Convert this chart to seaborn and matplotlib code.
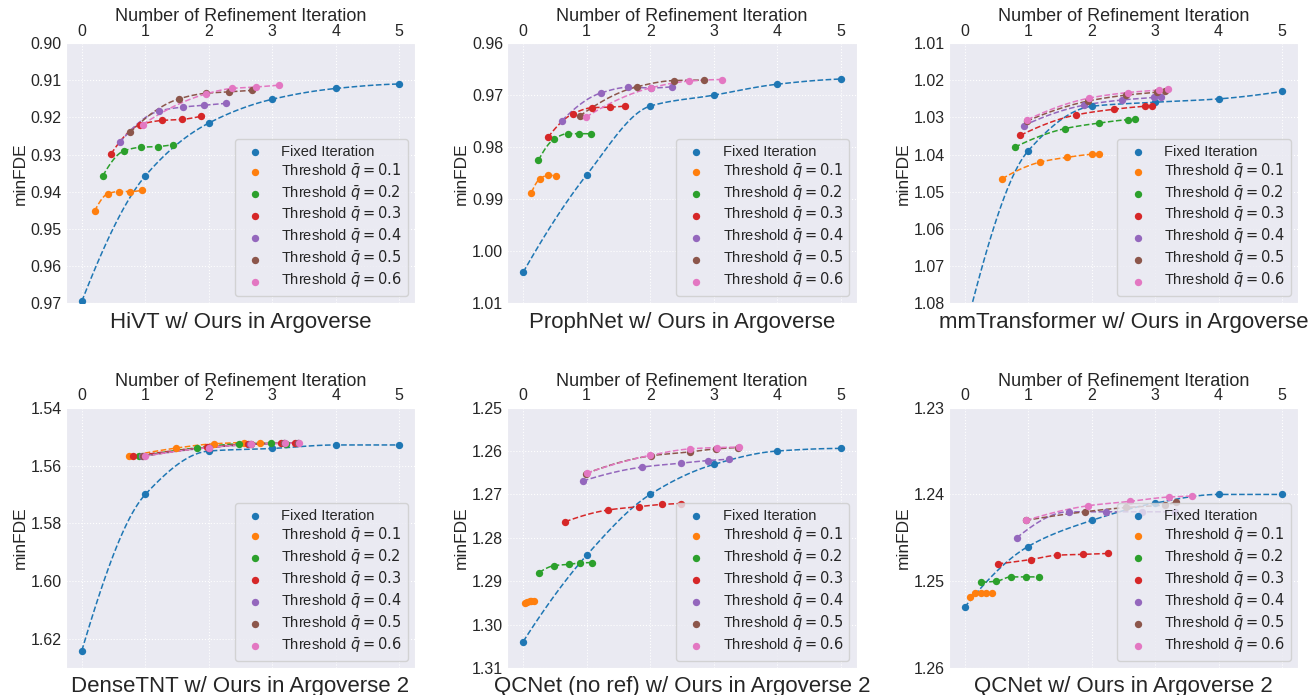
import numpy as np
import matplotlib
matplotlib.use("Agg")
import matplotlib.pyplot as plt
import seaborn as sns

# -- Data ----------------------------------------------------------------------
SERIES = ["Fixed Iteration"] + [rf"Threshold $\bar{{q}} = {t}$" for t in ("0.1", "0.2", "0.3", "0.4", "0.5", "0.6")]
COLORS = ["#1f77b4", "#ff7f0e", "#2ca02c", "#d62728", "#9467bd", "#8c564b", "#e377c2"]
FIXED_X = [0, 1, 2, 3, 4, 5]

TITLES = ["HiVT w/ Ours in Argoverse", "ProphNet w/ Ours in Argoverse",
          "mmTransformer w/ Ours in Argoverse", "DenseTNT w/ Ours in Argoverse 2",
          "QCNet (no ref) w/ Ours in Argoverse 2", "QCNet w/ Ours in Argoverse 2"]
YLIMS = [(0.97, 0.90), (1.01, 0.96), (1.08, 1.01), (1.63, 1.54), (1.31, 1.25), (1.26, 1.23)]
YSTEPS = [0.01, 0.01, 0.01, 0.02, 0.01, 0.01]

HIVT_X = [FIXED_X,
          [0.20, 0.41, 0.59, 0.76, 0.95],
          [0.33, 0.66, 0.93, 1.20, 1.44],
          [0.46, 0.91, 1.26, 1.58, 1.87],
          [0.60, 1.21, 1.59, 1.93, 2.27],
          [0.76, 1.53, 1.95, 2.32, 2.68],
          [0.96, 1.95, 2.36, 2.74, 3.11]]
HIVT_Y = [[0.9694, 0.9357, 0.9215, 0.9151, 0.9122, 0.9110],
          [0.9452, 0.9405, 0.9399, 0.9399, 0.9396],
          [0.9357, 0.9290, 0.9280, 0.9278, 0.9273],
          [0.9298, 0.9220, 0.9208, 0.9205, 0.9197],
          [0.9267, 0.9183, 0.9172, 0.9167, 0.9162],
          [0.9240, 0.9150, 0.9135, 0.9131, 0.9127],
          [0.9219, 0.9137, 0.9122, 0.9118, 0.9113]]

PROPH_X = [FIXED_X,
           [0.13, 0.26, 0.39, 0.52],
           [0.24, 0.49, 0.70, 0.88, 1.07],
           [0.39, 0.78, 1.09, 1.36, 1.61],
           [0.61, 1.22, 1.65, 2.02, 2.34],
           [0.89, 1.79, 2.37, 2.84],
           [0.99, 2.01, 2.61, 3.13]]
PROPH_Y = [[1.0040, 0.9853, 0.9721, 0.9700, 0.9679, 0.9669],
           [0.9887, 0.9861, 0.9854, 0.9855],
           [0.9825, 0.9784, 0.9774, 0.9774, 0.9774],
           [0.9781, 0.9736, 0.9724, 0.9723, 0.9721],
           [0.9749, 0.9696, 0.9685, 0.9686, 0.9684],
           [0.9740, 0.9684, 0.9672, 0.9671],
           [0.9742, 0.9686, 0.9673, 0.9670]]

MMT_X = [FIXED_X,
         [0.59, 1.19, 1.62, 2.00, 2.11],
         [0.79, 1.58, 2.12, 2.57, 2.69],
         [0.88, 1.76, 2.35, 2.84, 2.96],
         [0.93, 1.88, 2.48, 2.98, 3.10],
         [0.98, 1.94, 2.54, 3.03, 3.16],
         [0.99, 1.96, 2.57, 3.07, 3.20]]
MMT_Y = [[1.0880, 1.0390, 1.0270, 1.0259, 1.0250, 1.0230],
         [1.0465, 1.0420, 1.0407, 1.0399, 1.0398],
         [1.0380, 1.0330, 1.0315, 1.0306, 1.0305],
         [1.0348, 1.0293, 1.0278, 1.0270, 1.0269],
         [1.0322, 1.0267, 1.0253, 1.0246, 1.0244],
         [1.0310, 1.0256, 1.0240, 1.0232, 1.0230],
         [1.0306, 1.0248, 1.0233, 1.0226, 1.0224]]

DTNT_X = [FIXED_X,
          [0.74, 1.48, 2.08, 2.56, 2.80],
          [0.90, 1.81, 2.48, 2.98, 3.21],
          [0.81, 1.97, 2.62, 3.14, 3.36],
          [0.95, 2.00, 2.65, 3.18, 3.40],
          [0.97, 2.01, 2.66, 3.19, 3.41],
          [0.99, 2.00, 2.67, 3.20, 3.42]]
DTNT_Y = [[1.6240, 1.5700, 1.5550, 1.5541, 1.5529, 1.5529],
          [1.5568, 1.5540, 1.5525, 1.5521, 1.5523],
          [1.5568, 1.5539, 1.5525, 1.5523, 1.5524],
          [1.5568, 1.5537, 1.5526, 1.5523, 1.5523],
          [1.5568, 1.5538, 1.5527, 1.5523, 1.5523],
          [1.5568, 1.5538, 1.5527, 1.5523, 1.5523],
          [1.5568, 1.5538, 1.5527, 1.5523, 1.5523]]

QCNR_X = [FIXED_X,
          [0.03, 0.06, 0.10, 0.13, 0.17],
          [0.25, 0.49, 0.72, 0.90, 1.09],
          [0.66, 1.33, 1.83, 2.19, 2.49],
          [0.94, 1.87, 2.48, 2.91, 3.24],
          [0.99, 2.01, 2.62, 3.04, 3.39],
          [1.00, 2.00, 2.63, 3.05, 3.40]]
QCNR_Y = [[1.3039, 1.2840, 1.2700, 1.2631, 1.2600, 1.2594],
          [1.2949, 1.2947, 1.2946, 1.2945, 1.2945],
          [1.2880, 1.2864, 1.2861, 1.2858, 1.2857],
          [1.2763, 1.2736, 1.2728, 1.2723, 1.2721],
          [1.2669, 1.2637, 1.2628, 1.2622, 1.2619],
          [1.2652, 1.2611, 1.2602, 1.2595, 1.2592],
          [1.2651, 1.2610, 1.2595, 1.2592, 1.2591]]

QCN_X = [FIXED_X,
         [0.08, 0.17, 0.26, 0.34, 0.43],
         [0.26, 0.50, 0.73, 0.96, 1.18],
         [0.52, 1.04, 1.46, 1.87, 2.26],
         [0.82, 1.64, 2.23, 2.80, 3.32],
         [0.96, 1.89, 2.55, 3.16, 3.33],
         [0.97, 1.95, 2.60, 3.22, 3.59]]
QCN_Y = [[1.2530, 1.2460, 1.2430, 1.2410, 1.2400, 1.2400],
         [1.2518, 1.2514, 1.2514, 1.2514, 1.2514],
         [1.2501, 1.2500, 1.2495, 1.2495, 1.2495],
         [1.2480, 1.2475, 1.2470, 1.2469, 1.2468],
         [1.2450, 1.2420, 1.2420, 1.2420, 1.2420],
         [1.2430, 1.2420, 1.2415, 1.2412, 1.2409],
         [1.2430, 1.2413, 1.2408, 1.2403, 1.2402]]

PANELS_X = [HIVT_X, PROPH_X, MMT_X, DTNT_X, QCNR_X, QCN_X]
PANELS_Y = [HIVT_Y, PROPH_Y, MMT_Y, DTNT_Y, QCNR_Y, QCN_Y]


# -- Smooth dashed curve through the points (monotone cubic) -------------------
def pchip_curve(x, y, n=120):
    x = np.asarray(x, float); y = np.asarray(y, float)
    if len(x) < 3:
        return x, y
    h = np.diff(x); d = np.diff(y) / h
    m = np.zeros_like(x)
    for k in range(1, len(x) - 1):
        if d[k - 1] * d[k] > 0:
            w1 = 2 * h[k] + h[k - 1]; w2 = h[k] + 2 * h[k - 1]
            m[k] = (w1 + w2) / (w1 / d[k - 1] + w2 / d[k])

    def end_slope(h0, h1, d0, d1):
        s = ((2 * h0 + h1) * d0 - h0 * d1) / (h0 + h1)
        if np.sign(s) != np.sign(d0):
            s = 0.0
        elif np.sign(d0) != np.sign(d1) and abs(s) > abs(3 * d0):
            s = 3 * d0
        return s

    m[0] = end_slope(h[0], h[1], d[0], d[1])
    m[-1] = end_slope(h[-1], h[-2], d[-1], d[-2])
    xs = np.linspace(x[0], x[-1], n)
    idx = np.clip(np.searchsorted(x, xs) - 1, 0, len(x) - 2)
    t = (xs - x[idx]) / h[idx]
    h00 = 2 * t**3 - 3 * t**2 + 1; h10 = t**3 - 2 * t**2 + t
    h01 = -2 * t**3 + 3 * t**2;    h11 = t**3 - t**2
    ys = h00 * y[idx] + h10 * h[idx] * m[idx] + h01 * y[idx + 1] + h11 * h[idx] * m[idx + 1]
    return xs, ys


# -- Style ---------------------------------------------------------------------
sns.set_style("darkgrid", {"grid.linestyle": ":"})
plt.rcParams["font.family"] = ["Liberation Sans", "DejaVu Sans"]

fig, axes = plt.subplots(2, 3, figsize=(13.11, 6.95), dpi=100)
fig.subplots_adjust(left=0.0503, right=0.990, top=0.938, bottom=0.0388, wspace=0.264, hspace=0.40)

for ax, xs_list, ys_list, title, ylim, step in zip(axes.flat, PANELS_X, PANELS_Y, TITLES, YLIMS, YSTEPS):
    for xs, ys, name, col in zip(xs_list, ys_list, SERIES, COLORS):
        cx, cy = pchip_curve(xs, ys)
        ax.plot(cx, cy, linestyle="--", color=col, lw=1.1)
        sns.scatterplot(x=xs, y=ys, ax=ax, color=col, s=28, linewidth=0, label=name, zorder=3)

    ax.set_xlim(-0.25, 5.25)
    ax.set_ylim(*ylim)
    ax.set_yticks(np.arange(ylim[1], ylim[0] + 1e-9, step))
    ax.yaxis.set_major_formatter(matplotlib.ticker.FormatStrFormatter("%.2f"))
    ax.set_xticks(range(6))
    ax.xaxis.tick_top()
    ax.xaxis.set_label_position("top")
    ax.set_xlabel("Number of Refinement Iteration", fontsize=13, labelpad=2)
    ax.set_ylabel("minFDE", fontsize=12.5, labelpad=2)
    ax.tick_params(axis="both", labelsize=11.5, length=0, pad=3)
    ax.set_title(title, fontsize=16, y=-0.125)
    ax.legend(loc="lower right", fontsize=10.5, labelspacing=0.2, borderpad=0.4)

fig.savefig("out.png", dpi=100)
